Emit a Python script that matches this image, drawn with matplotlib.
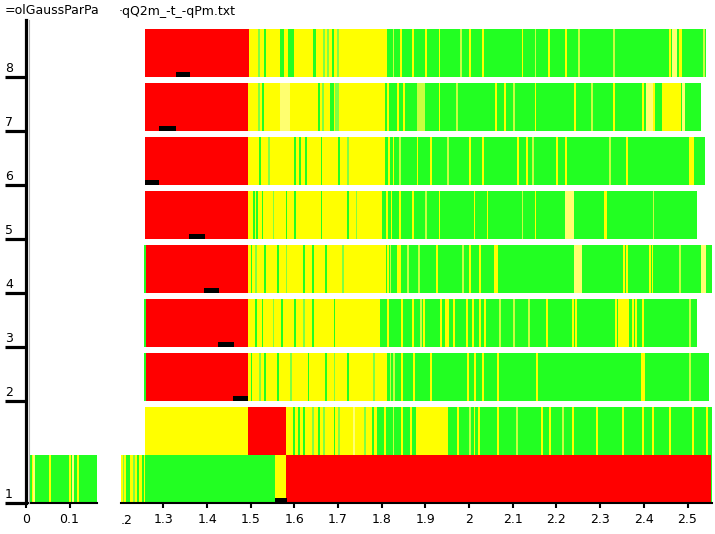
import matplotlib
matplotlib.use("Agg")
import matplotlib.pyplot as plt
from matplotlib.lines import Line2D

# colour codes used in the row tables
COLORS = {"R": "#ff0000", "Y": "#ffff00", "y": "#ffff70", "G": "#22ff22",
          "g": "#80ff40", "o": "#c8ff40", "K": "#000000"}
LINE_W = 0.004      # width of a thin stripe, in x units
MARK_H = 0.09       # height of the black markers

# row labels, bottom of each row on the y axis
row_labels = ["1", "", "2", "3", "4", "5", "6", "7", "8"]
row_bottoms = [0.0, 0.889, 1.889, 2.889, 3.889, 4.889, 5.889, 6.889, 7.889]
row_height = 0.889

# ---- data: blocks (start, end, colour) and thin lines (x, colour) ----
# row 1, left part of the broken x axis
r1_left_blocks = [(0.007, 0.163, "G")]
r1_left_lines = [(0.014, "Y"), (0.016, "y"), (0.053, "Y"), (0.099, "Y"),
                 (0.106, "y"), (0.117, "Y")]

# row 1, right part
r1_blocks = [(1.203, 1.258, "Y"), (1.258, 1.556, "G"), (1.556, 1.581, "Y"),
             (1.581, 2.555, "R")]
r1_lines = [(1.207, "g"), (1.214, "G"), (1.219, "G"), (1.230, "g"),
            (1.240, "G"), (1.251, "G"), (2.553, "G")]

# unlabelled row between 1 and 2
r1b_blocks = [(1.258, 1.494, "Y"), (1.494, 1.581, "R"), (1.581, 1.790, "Y"),
              (1.790, 1.879, "G"), (1.879, 1.952, "Y"), (1.952, 2.556, "G")]
r1b_lines = [(1.597, "G"), (1.608, "G"), (1.620, "G"), (1.640, "g"),
             (1.655, "G"), (1.665, "g"), (1.690, "G"), (1.700, "g"),
             (1.735, "y"), (1.760, "g"), (1.778, "G"), (1.805, "Y"),
             (1.825, "o"), (1.845, "Y"), (1.865, "Y"), (1.972, "Y"),
             (2.000, "o"), (2.010, "Y"), (2.020, "Y"), (2.064, "Y"),
             (2.107, "o"), (2.164, "Y"), (2.183, "Y"), (2.213, "o"),
             (2.236, "Y"), (2.291, "Y"), (2.350, "Y"), (2.396, "Y"),
             (2.419, "Y"), (2.458, "Y"), (2.510, "Y"), (2.543, "Y")]

# rows 2 to 8
r2_blocks = [(1.258, 1.494, "R"), (1.494, 1.812, "Y"), (1.812, 2.549, "G")]
r2_lines = [(1.256, "G"), (1.500, "G"), (1.520, "g"), (1.530, "G"),
            (1.560, "G"), (1.590, "g"), (1.630, "G"), (1.670, "G"),
            (1.690, "g"), (1.720, "G"), (1.780, "g"), (1.818, "o"),
            (1.826, "o"), (1.844, "Y"), (1.872, "Y"), (1.911, "Y"),
            (1.995, "Y"), (2.011, "Y"), (2.030, "Y"), (2.064, "Y"),
            (2.154, "Y"), (2.394, "Y"), (2.399, "Y"), (2.503, "o")]
r3_blocks = [(1.258, 1.494, "R"), (1.494, 1.796, "Y"), (1.796, 2.522, "G"),
             (2.344, 2.366, "Y")]
r3_lines = [(1.256, "G"), (1.510, "G"), (1.525, "G"), (1.550, "g"),
            (1.570, "G"), (1.600, "G"), (1.620, "g"), (1.640, "G"),
            (1.690, "G"), (1.812, "Y"), (1.844, "Y"), (1.870, "Y"),
            (1.888, "o"), (1.895, "Y"), (1.934, "Y"), (1.945, "Y"),
            (1.949, "Y"), (1.963, "Y"), (1.993, "Y"), (2.007, "Y"),
            (2.023, "Y"), (2.034, "Y"), (2.069, "o"), (2.101, "o"),
            (2.135, "o"), (2.177, "Y"), (2.236, "Y"), (2.242, "Y"),
            (2.334, "Y"), (2.341, "Y"), (2.373, "Y"), (2.380, "Y"),
            (2.396, "Y"), (2.503, "o")]
r4_blocks = [(1.258, 1.494, "R"), (1.494, 1.810, "Y"), (1.810, 2.556, "G"),
             (2.240, 2.259, "y"), (2.530, 2.542, "y")]
r4_lines = [(1.256, "G"), (1.500, "G"), (1.510, "g"), (1.530, "G"),
            (1.560, "G"), (1.580, "g"), (1.620, "G"), (1.640, "G"),
            (1.670, "G"), (1.710, "g"), (1.812, "Y"), (1.818, "o"),
            (1.835, "Y"), (1.840, "Y"), (1.858, "o"), (1.883, "o"),
            (1.925, "Y"), (1.984, "o"), (2.000, "Y"), (2.023, "Y"),
            (2.058, "Y"), (2.062, "Y"), (2.353, "Y"), (2.360, "Y"),
            (2.412, "Y"), (2.418, "Y"), (2.480, "o")]
r5_blocks = [(1.258, 1.494, "R"), (1.494, 1.800, "Y"), (1.800, 2.522, "G"),
             (2.220, 2.240, "y")]
r5_lines = [(1.505, "G"), (1.512, "G"), (1.525, "G"), (1.550, "g"),
            (1.580, "G"), (1.600, "G"), (1.660, "G"), (1.720, "G"),
            (1.740, "g"), (1.810, "Y"), (1.820, "Y"), (1.840, "Y"),
            (1.870, "Y"), (1.900, "o"), (1.930, "Y"), (2.010, "Y"),
            (2.040, "Y"), (2.120, "o"), (2.150, "Y"), (2.309, "Y"),
            (2.312, "Y"), (2.420, "o")]
r6_blocks = [(1.258, 1.494, "R"), (1.494, 1.807, "Y"), (1.807, 2.540, "G"),
             (2.503, 2.515, "Y")]
r6_lines = [(1.520, "G"), (1.540, "g"), (1.600, "G"), (1.610, "G"),
            (1.625, "G"), (1.660, "G"), (1.700, "G"), (1.720, "g"),
            (1.815, "Y"), (1.825, "Y"), (1.840, "o"), (1.880, "Y"),
            (1.910, "Y"), (1.950, "o"), (2.000, "Y"), (2.030, "Y"),
            (2.110, "Y"), (2.130, "Y"), (2.145, "o"), (2.200, "Y"),
            (2.220, "Y"), (2.320, "o"), (2.360, "Y")]
r7_blocks = [(1.258, 1.494, "R"), (1.494, 1.807, "Y"), (1.567, 1.590, "y"),
             (1.807, 2.531, "G"), (1.881, 1.899, "o"), (2.396, 2.401, "Y"),
             (2.406, 2.420, "y"), (2.442, 2.485, "Y"), (2.487, 2.494, "y")]
r7_lines = [(1.517, "g"), (1.526, "G"), (1.654, "G"), (1.663, "g"),
            (1.682, "G"), (1.686, "G"), (1.693, "g"), (1.698, "g"),
            (1.812, "Y"), (1.835, "Y"), (1.849, "Y"), (1.930, "Y"),
            (1.970, "o"), (2.060, "Y"), (2.080, "Y"), (2.100, "o"),
            (2.150, "Y"), (2.240, "Y"), (2.280, "o"), (2.330, "Y"),
            (2.421, "Y")]
r8_blocks = [(1.258, 1.496, "R"), (1.496, 1.812, "Y"), (1.812, 2.542, "G"),
             (2.465, 2.476, "y"), (2.480, 2.487, "Y")]
r8_lines = [(1.517, "g"), (1.531, "G"), (1.567, "G"), (1.572, "G"),
            (1.586, "G"), (1.590, "G"), (1.595, "G"), (1.642, "G"),
            (1.646, "G"), (1.665, "g"), (1.675, "g"), (1.686, "G"),
            (1.698, "g"), (1.825, "o"), (1.842, "Y"), (1.870, "Y"),
            (1.900, "Y"), (1.930, "Y"), (1.980, "o"), (2.000, "Y"),
            (2.030, "Y"), (2.120, "Y"), (2.150, "o"), (2.180, "Y"),
            (2.220, "Y"), (2.250, "o"), (2.330, "o"), (2.457, "Y"),
            (2.536, "o")]

# black markers at the bottom of each row (start, end)
r1_mark = (1.556, 1.583)
r2_mark = (1.460, 1.494)
r3_mark = (1.426, 1.462)
r4_mark = (1.394, 1.428)
r5_mark = (1.359, 1.396)
r6_mark = (1.258, 1.291)
r7_mark = (1.291, 1.330)
r8_mark = (1.330, 1.362)

right_rows = [
    (r1_blocks, r1_lines, r1_mark),
    (r1b_blocks, r1b_lines, None),
    (r2_blocks, r2_lines, r2_mark),
    (r3_blocks, r3_lines, r3_mark),
    (r4_blocks, r4_lines, r4_mark),
    (r5_blocks, r5_lines, r5_mark),
    (r6_blocks, r6_lines, r6_mark),
    (r7_blocks, r7_lines, r7_mark),
    (r8_blocks, r8_lines, r8_mark),
]

left_ticks = [0, 0.1]
left_ticklabels = ["0", "0.1"]
right_ticks = [1.3, 1.4, 1.5, 1.6, 1.7, 1.8, 1.9, 2.0, 2.1, 2.2, 2.3, 2.4, 2.5]
right_ticklabels = ["1.3", "1.4", "1.5", "1.6", "1.7", "1.8", "1.9", "2",
                    "2.1", "2.2", "2.3", "2.4", "2.5"]


def draw_row(ax, y0, blocks, lines, mark=None):
    for x0, x1, c in blocks:
        ax.broken_barh([(x0, x1 - x0)], (y0, row_height),
                       facecolors=COLORS[c], edgecolor="none")
    for x, c in lines:
        ax.broken_barh([(x, LINE_W)], (y0, row_height),
                       facecolors=COLORS[c], edgecolor="none")
    if mark is not None:
        ax.broken_barh([(mark[0], mark[1] - mark[0])], (y0, MARK_H),
                       facecolors=COLORS["K"], edgecolor="none")


plt.rcParams["font.family"] = "DejaVu Sans"
plt.rcParams["font.size"] = 9

W, H = 715, 534
fig = plt.figure(figsize=(W / 100, H / 100), dpi=100)

ybot = (H - 503) / H
yh = 483 / H
ax_l = fig.add_axes([26 / W, ybot, 71 / W, yh])
ax_r = fig.add_axes([121 / W, ybot, 591 / W, yh])

ymax = 483 / 54
for ax in (ax_l, ax_r):
    ax.set_ylim(0, ymax)
    ax.spines["top"].set_visible(False)
    ax.spines["right"].set_visible(False)
    ax.spines["bottom"].set_linewidth(1.5)
    ax.tick_params(axis="x", direction="out", length=3.5, width=1.5,
                   pad=4, labelsize=9)

ax_l.set_xlim(0, 0.163)
ax_r.set_xlim(1.203, 2.556)

draw_row(ax_l, row_bottoms[0], r1_left_blocks, r1_left_lines)
for yb, (blocks, lines, mark) in zip(row_bottoms, right_rows):
    draw_row(ax_r, yb, blocks, lines, mark)

ax_l.set_xticks(left_ticks)
ax_l.set_xticklabels(left_ticklabels)
ax_r.set_xticks(right_ticks)
ax_r.set_xticklabels(right_ticklabels)

# y axis: long ticks to the left, labels sitting above them
ax_l.spines["left"].set_linewidth(2.3)
tick_pos = [yb for yb, lab in zip(row_bottoms, row_labels) if lab]
tick_lab = [lab for lab in row_labels if lab]
ax_l.set_yticks(tick_pos)
ax_l.tick_params(axis="y", direction="out", length=15, width=2.3,
                 labelleft=False)
for yp, lab in zip(tick_pos, tick_lab):
    ax_l.annotate(lab, xy=(0, yp), xycoords=("axes fraction", "data"),
                  xytext=(-21, 2), textcoords="offset pixels",
                  ha="left", va="bottom", fontsize=9)

ax_r.spines["left"].set_visible(False)
ax_r.set_yticks([])

# soft grey shadow next to the y axis line
fig.add_artist(Line2D([28.5 / W, 28.5 / W], [ybot, ybot + yh],
                      color="#b0b0b0", lw=0.8, transform=fig.transFigure))

# clipped tick label at the start of the right part
fig.text(127 / W, (H - 521) / H, ".2", ha="center", va="center", fontsize=9)

# title, cut by the axis break
fig.text(5 / W, 1 - 11 / H, "=olGaussParPa", ha="left", va="center", fontsize=9)
fig.text(119 / W, 1 - 11 / H, "\u00b7qQ2m_-t_-qPm.txt", ha="left",
         va="center", fontsize=9)

fig.savefig("out.png", dpi=100)
